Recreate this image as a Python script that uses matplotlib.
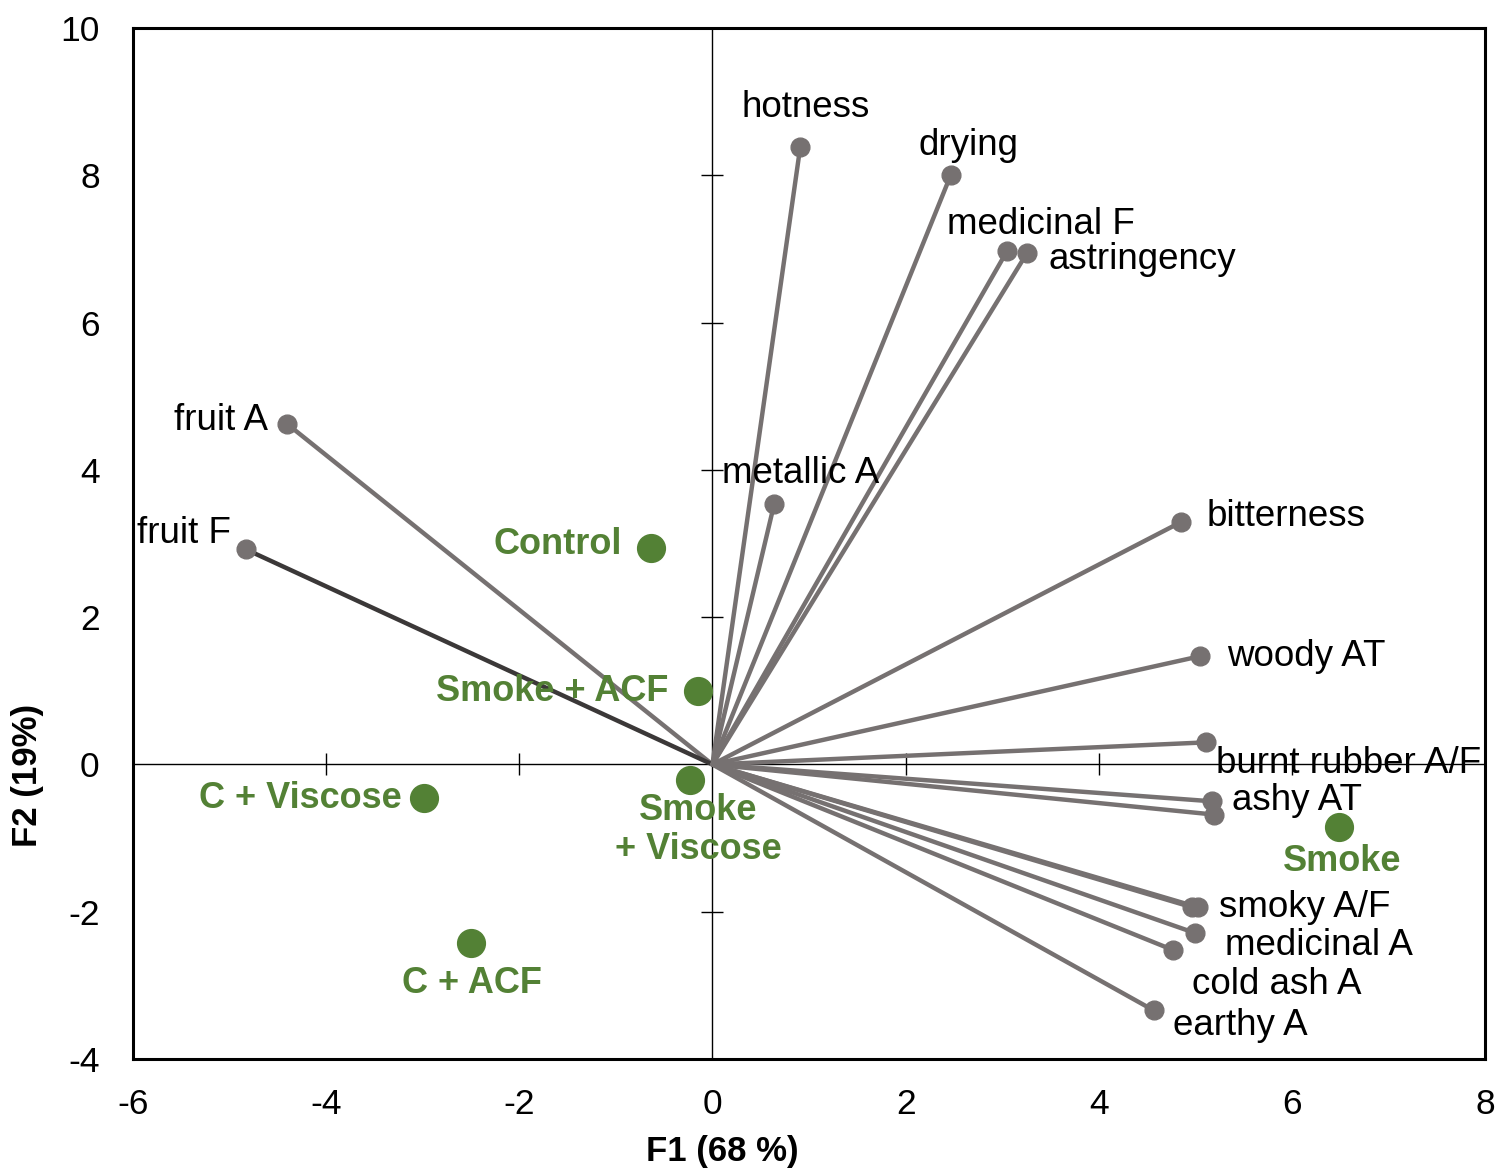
import matplotlib
matplotlib.use("Agg")
import matplotlib.pyplot as plt

plt.rcParams['font.family'] = ['Liberation Sans', 'DejaVu Sans']
plt.rcParams['axes.unicode_minus'] = False

# attribute loadings (F1, F2)
attr_names = ['hotness', 'drying', 'medicinal F', 'astringency', 'fruit A', 'fruit F',
              'metallic A', 'bitterness', 'woody AT', 'burnt rubber A/F', 'ashy AT', '',
              'smoky A/F', '', 'medicinal A', 'cold ash A', 'earthy A']
attr_f1 = [0.91, 2.47, 3.05, 3.26, -4.40, -4.83, 0.64, 4.85, 5.05, 5.11, 5.17, 5.19,
           5.03, 4.97, 5.00, 4.77, 4.57]
attr_f2 = [8.39, 8.01, 6.97, 6.95, 4.62, 2.92, 3.54, 3.29, 1.47, 0.30, -0.50, -0.68,
           -1.94, -1.94, -2.29, -2.52, -3.34]

# sample scores
sample_names = ['Control', 'Smoke + ACF', 'Smoke\n+ Viscose', 'C + Viscose', 'C + ACF', 'Smoke']
sample_f1 = [-0.64, -0.15, -0.23, -2.99, -2.50, 6.49]
sample_f2 = [2.94, 1.00, -0.21, -0.46, -2.43, -0.85]

# label placement (offset pixels, alignment)
attr_offsets = [(5, 39, 'center'), (18, 29, 'center'), (34, 27, 'center'), (21, -7, 'left'),
                (-19, 4, 'right'), (-15, 16, 'right'), (26, 30, 'center'), (26, 6, 'left'),
                (27, 0, 'left'), (10, -21, 'left'), (20, 1, 'left'), (0, 0, 'left'),
                (21, 0, 'left'), (0, 0, 'left'), (30, -12, 'left'), (19, -34, 'left'),
                (19, -15, 'left')]
sample_offsets = [(-29, 3, 'right'), (-30, -1, 'right'), (8, -50, 'center'),
                  (-22, 0, 'right'), (1, -40, 'center'), (3, -34, 'center')]

gray = '#767171'
dark = '#3b3838'
green = '#538135'

fig = plt.figure(figsize=(14.99, 11.71), dpi=100)
ax = fig.add_axes([0.0887, 0.0956, 0.9020, 0.8805])

for i, name in enumerate(attr_names):
    c = dark if name == 'fruit F' else gray
    ax.plot([0, attr_f1[i]], [0, attr_f2[i]], color=c, lw=3.2, zorder=3,
            solid_capstyle='round')
for i, name in enumerate(attr_names):
    ax.plot(attr_f1[i], attr_f2[i], 'o', color=gray, ms=13.5, zorder=4)
    if name:
        dx, dy, ha = attr_offsets[i]
        ax.annotate(name, (attr_f1[i], attr_f2[i]), xytext=(dx, dy),
                    textcoords='offset pixels', ha=ha, va='center',
                    fontsize=26.5, color='black', zorder=6)

ax.plot(sample_f1, sample_f2, 'o', color=green, ms=20, zorder=5, lw=0)
for i, name in enumerate(sample_names):
    dx, dy, ha = sample_offsets[i]
    ax.annotate(name, (sample_f1[i], sample_f2[i]), xytext=(dx, dy),
                textcoords='offset pixels', ha=ha, va='center', multialignment='center',
                fontsize=26, fontweight='bold', color=green, zorder=6,
                linespacing=1.15)

ax.set_xlim(-6, 8)
ax.set_ylim(-4, 10)
ax.set_xticks(range(-6, 9, 2))
ax.set_yticks(range(-4, 11, 2))
ax.tick_params(length=0, labelsize=25.5)
ax.tick_params(axis='x', pad=21)
ax.tick_params(axis='y', pad=24)
for s in ax.spines.values():
    s.set_linewidth(2.2)
ax.set_xlabel('F1 (68 %)', fontsize=25, fontweight='bold')
ax.set_ylabel('F2 (19%)', fontsize=25, fontweight='bold')
ax.xaxis.set_label_coords(0.436, -0.074)
ax.yaxis.set_label_coords(-0.066, 0.275)

# zero axes with crossing ticks
ax2 = fig.add_axes(ax.get_position())
ax2.set_xlim(-6, 8)
ax2.set_ylim(-4, 10)
ax2.patch.set_visible(False)
ax2.spines['top'].set_visible(False)
ax2.spines['right'].set_visible(False)
ax2.spines['left'].set_position(('data', 0))
ax2.spines['bottom'].set_position(('data', 0))
ax2.spines['left'].set_linewidth(1)
ax2.spines['bottom'].set_linewidth(1)
ax2.set_zorder(0)
ax.set_zorder(1)
ax.patch.set_visible(False)
ax2.tick_params(direction='inout', length=16, width=1, labelleft=False, labelbottom=False)
ax2.set_xticks([-4, -2, 2, 4, 6])
ax2.set_yticks([-2, 2, 4, 6, 8])

fig.savefig('out.png', dpi=100)
